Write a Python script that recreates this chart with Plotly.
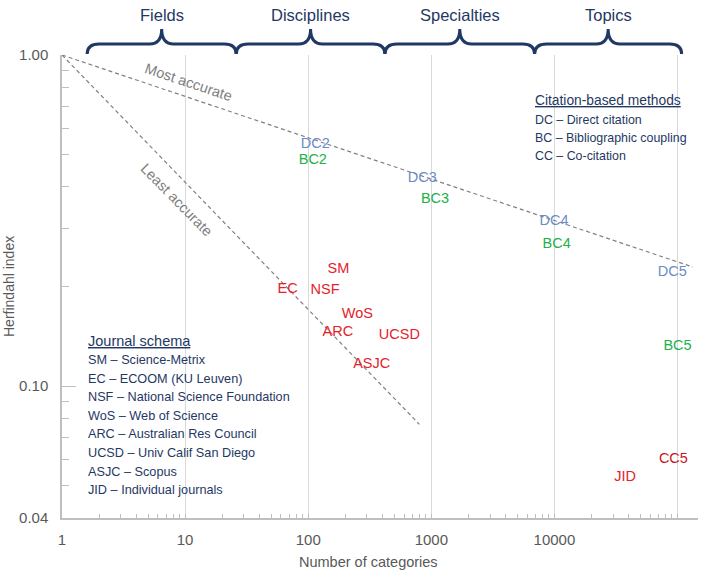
import numpy as np
import plotly.graph_objects as go

# ---------------- data ----------------
dc_labels = ["DC2", "DC3", "DC4", "DC5"]
dc_x = [114, 845, 9930, 90700]
dc_y = [0.538, 0.424, 0.315, 0.220]

bc_labels = ["BC2", "BC3", "BC4", "BC5"]
bc_x = [109, 1072, 10430, 100000]
bc_y = [0.479, 0.367, 0.268, 0.1315]

cc_labels = ["CC5"]
cc_x = [92500]
cc_y = [0.060]

journal_labels = ["SM", "EC", "NSF", "WoS", "ARC", "UCSD", "ASJC", "JID"]
journal_x = [176, 68, 137, 251, 174, 550, 328, 37500]
journal_y = [0.225, 0.196, 0.195, 0.165, 0.145, 0.142, 0.1165, 0.0532]

most_x = [1, 133000]
most_y = [1.0, 0.229]
least_x = [1, 800]
least_y = [1.0, 0.0767]

level_names = ["Fields", "Disciplines", "Specialties", "Topics"]
level_bounds = [1.6, 26, 420, 6900, 108000]

x_tickvals = [1, 10, 100, 1000, 10000, 100000]
x_ticktext = ["1", "10", "100", "1000", "10000", "100000"]
y_tickvals = [0.04, 0.1, 1.0]
y_ticktext = ["0.04", "0.10", "1.00"]

x_title = "Number of categories"
y_title = "Herfindahl index"

journal_legend_title = "Journal schema"
journal_legend = [
    "SM – Science-Metrix",
    "EC – ECOOM (KU Leuven)",
    "NSF – National Science Foundation",
    "WoS – Web of Science",
    "ARC – Australian Res Council",
    "UCSD – Univ Calif San Diego",
    "ASJC – Scopus",
    "JID – Individual journals",
]
method_legend_title = "Citation-based methods"
method_legend = [
    "DC – Direct citation",
    "BC – Bibliographic coupling",
    "CC – Co-citation",
]

# ---------------- style / layout ----------------
FONT = "Liberation Sans, Arial, sans-serif"
NAVY = "#1F3864"
GRAY_TXT = "#595959"
DASH_GRAY = "#808080"
C_DC = "#6A8CC7"
C_BC = "#22B04A"
C_RED = "#E3222B"
C_CC = "#C8141E"

W, H = 702, 574
P_LEFT, P_RIGHT, P_TOP, P_BOTTOM = 62, 698, 55, 518
ML, MT, MR, MB = P_LEFT, P_TOP, W - P_RIGHT, H - P_BOTTOM
PW, PH = P_RIGHT - P_LEFT, P_BOTTOM - P_TOP
X_MAX_LOG = 5.166
Y_RANGE = [np.log10(0.04), 0.0]


def px_to_paper_x(px):
    return (px - P_LEFT) / PW


def py_to_paper_y(py):
    return (P_BOTTOM - py) / PH


def data_to_paper_x(x):
    return np.log10(x) / X_MAX_LOG


fig = go.Figure()

# dashed reference lines
for lx, ly in [(most_x, most_y), (least_x, least_y)]:
    fig.add_trace(go.Scatter(
        x=lx, y=ly, mode="lines",
        line=dict(color=DASH_GRAY, width=1.2, dash="4px,3px"),
        hoverinfo="skip", showlegend=False, cliponaxis=False,
    ))

# label markers (text)
for xs, ys, labs, col in [
    (dc_x, dc_y, dc_labels, C_DC),
    (bc_x, bc_y, bc_labels, C_BC),
    (cc_x, cc_y, cc_labels, C_CC),
    (journal_x, journal_y, journal_labels, C_RED),
]:
    fig.add_trace(go.Scatter(
        x=xs, y=ys, text=labs, mode="text",
        textposition="middle center",
        textfont=dict(family=FONT, size=14.5, color=col),
        showlegend=False, cliponaxis=False,
    ))

annotations = []
shapes = []

# line labels
annotations.append(dict(
    x=np.log10(10.56), y=np.log10(0.829), xref="x", yref="y",
    text="Most accurate", showarrow=False, textangle=18.5,
    font=dict(family=FONT, size=14.5, color=DASH_GRAY),
))
annotations.append(dict(
    x=np.log10(8.55), y=np.log10(0.365), xref="x", yref="y",
    text="Least accurate", showarrow=False, textangle=45.5,
    font=dict(family=FONT, size=14.5, color=DASH_GRAY),
))

# braces on top
y_end = py_to_paper_y(54)
y_bar = py_to_paper_y(44)
y_tip = py_to_paper_y(29)
r = 12 / PW
for i, name in enumerate(level_names):
    lo, hi = level_bounds[i], level_bounds[i + 1]
    xl = data_to_paper_x(lo)
    xr = data_to_paper_x(hi)
    xm = data_to_paper_x(np.sqrt(lo * hi))
    path = (f"M {xl},{y_end} Q {xl},{y_bar} {xl + r},{y_bar} "
            f"L {xm - r},{y_bar} Q {xm},{y_bar} {xm},{y_tip} "
            f"Q {xm},{y_bar} {xm + r},{y_bar} "
            f"L {xr - r},{y_bar} Q {xr},{y_bar} {xr},{y_end}")
    shapes.append(dict(type="path", path=path, xref="paper", yref="paper",
                       line=dict(color=NAVY, width=3)))
    annotations.append(dict(
        x=xm, y=py_to_paper_y(15), xref="paper", yref="paper",
        text=name, showarrow=False, xanchor="center", yanchor="middle",
        font=dict(family=FONT, size=16.5, color=NAVY),
    ))

# journal legend (bottom-left)
jx = px_to_paper_x(86)
annotations.append(dict(
    x=jx, y=py_to_paper_y(341), xref="paper", yref="paper",
    text=f"<u>{journal_legend_title}</u>", showarrow=False,
    xanchor="left", yanchor="middle",
    font=dict(family=FONT, size=14.5, color=NAVY),
))
for i, t in enumerate(journal_legend):
    annotations.append(dict(
        x=jx, y=py_to_paper_y(360 + 18.6 * i), xref="paper", yref="paper",
        text=t, showarrow=False, xanchor="left", yanchor="middle",
        font=dict(family=FONT, size=12.7, color=NAVY),
    ))

# method legend (top-right)
mx = px_to_paper_x(533)
annotations.append(dict(
    x=mx, y=py_to_paper_y(100), xref="paper", yref="paper",
    text=f"<u>{method_legend_title}</u>", showarrow=False,
    xanchor="left", yanchor="middle",
    font=dict(family=FONT, size=13.8, color=NAVY),
))
for i, t in enumerate(method_legend):
    annotations.append(dict(
        x=mx, y=py_to_paper_y(120 + 18 * i), xref="paper", yref="paper",
        text=t, showarrow=False, xanchor="left", yanchor="middle",
        font=dict(family=FONT, size=12.4, color=NAVY),
    ))

# axis titles
annotations.append(dict(
    x=px_to_paper_x(368), y=py_to_paper_y(562), xref="paper", yref="paper",
    text=x_title, showarrow=False, xanchor="center", yanchor="middle",
    font=dict(family=FONT, size=14.5, color=GRAY_TXT),
))
annotations.append(dict(
    x=px_to_paper_x(9), y=py_to_paper_y(287), xref="paper", yref="paper",
    text=y_title, showarrow=False, xanchor="center", yanchor="middle",
    textangle=-90,
    font=dict(family=FONT, size=14, color=GRAY_TXT),
))

x_minor = [m * 10 ** d for d in range(0, 6) for m in range(2, 10)]
y_minor = [m / 100 for m in range(5, 10)] + [m / 10 for m in range(2, 10)]

fig.update_layout(
    width=W, height=H,
    margin=dict(l=ML, r=MR, t=MT, b=MB, autoexpand=False),
    paper_bgcolor="white", plot_bgcolor="white",
    font=dict(family=FONT, color=GRAY_TXT),
    showlegend=False,
    annotations=annotations,
    shapes=shapes,
    xaxis=dict(
        type="log", range=[0, X_MAX_LOG],
        tickmode="array", tickvals=x_tickvals, ticktext=x_ticktext,
        showgrid=True, gridcolor="#D9D9D9", gridwidth=1,
        showline=True, linecolor="#BFBFBF", linewidth=1.5,
        ticks="inside", ticklen=4, tickcolor="#BFBFBF",
        ticklabelstandoff=7,
        tickfont=dict(family=FONT, size=15, color=GRAY_TXT),
        minor=dict(tickvals=x_minor, ticks="inside", ticklen=4,
                   tickcolor="#BFBFBF", showgrid=False),
        zeroline=False,
    ),
    yaxis=dict(
        type="log", range=Y_RANGE,
        tickmode="array", tickvals=y_tickvals, ticktext=y_ticktext,
        showgrid=False,
        showline=True, linecolor="#BFBFBF", linewidth=1.5,
        ticks="inside", ticklen=14, tickcolor="#BFBFBF",
        ticklabelstandoff=9,
        tickfont=dict(family=FONT, size=15, color=GRAY_TXT),
        minor=dict(tickvals=y_minor, ticks="inside", ticklen=7,
                   tickcolor="#BFBFBF", showgrid=False),
        zeroline=False,
    ),
)

# remove the browser's default 8px page margin so the figure fills the window
fig.write_html("out.html",
               config={"displayModeBar": False},
               post_script="document.body.style.margin='0';"
                           "document.body.style.overflow='hidden';")
